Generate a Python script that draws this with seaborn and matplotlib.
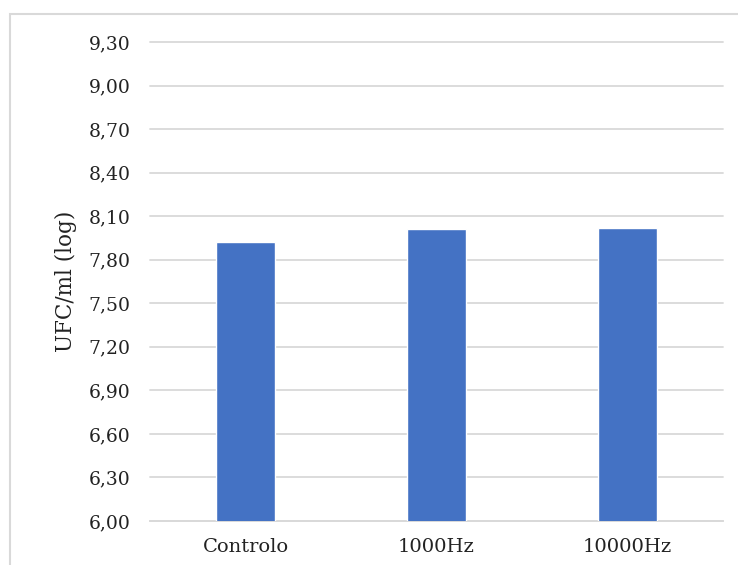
import matplotlib
matplotlib.use("Agg")
import matplotlib.pyplot as plt
import matplotlib.patches as mpatches
from matplotlib.ticker import FixedLocator, FuncFormatter
import seaborn as sns
import pandas as pd

categories = ["Controlo", "1000Hz", "10000Hz"]
ufc_log = [7.92, 8.01, 8.02]
y_ticks = [6.00, 6.30, 6.60, 6.90, 7.20, 7.50, 7.80, 8.10, 8.40, 8.70, 9.00, 9.30]

sns.set_theme(style="white")
plt.rcParams["font.family"] = ["DejaVu Serif"]

df = pd.DataFrame({"grupo": categories, "ufc": ufc_log})

fig = plt.figure(figsize=(7.38, 5.65), dpi=100)
ax = fig.add_axes([150 / 738, 1 - 521 / 565, (723 - 150) / 738, (521 - 42) / 565])

# light frame around the chart area
fig.patches.append(mpatches.Rectangle((10 / 738, -0.05), 1.0, 1 - 14 / 565 + 0.05,
                                      transform=fig.transFigure, fill=False,
                                      edgecolor="#d9d9d9", linewidth=1.5))

sns.barplot(data=df, x="grupo", y="ufc", color="#4472C4", saturation=1,
            width=0.31, ax=ax, zorder=3)

ax.set_ylim(6.0, 9.3)
ax.yaxis.set_major_locator(FixedLocator(y_ticks))
ax.yaxis.set_major_formatter(FuncFormatter(lambda v, p: f"{v:.2f}".replace(".", ",")))
ax.grid(axis="y", color="#d9d9d9", linewidth=1.3, zorder=0)
for gl in ax.get_ygridlines():
    gl.set_clip_on(False)
ax.set_axisbelow(True)

for s in ["top", "right", "left"]:
    ax.spines[s].set_visible(False)
ax.spines["bottom"].set_color("#d9d9d9")
ax.spines["bottom"].set_linewidth(1.3)

ax.tick_params(axis="y", length=0, pad=14, labelsize=13.5, labelcolor="#222222")
ax.tick_params(axis="x", length=0, pad=12, labelsize=14, labelcolor="#222222")
ax.set_xlabel("")
ax.set_ylabel("UFC/ml (log)", fontsize=15.5, color="#222222")
ax.yaxis.set_label_coords(-0.128, 0.5)

fig.savefig("out.png", dpi=100)
